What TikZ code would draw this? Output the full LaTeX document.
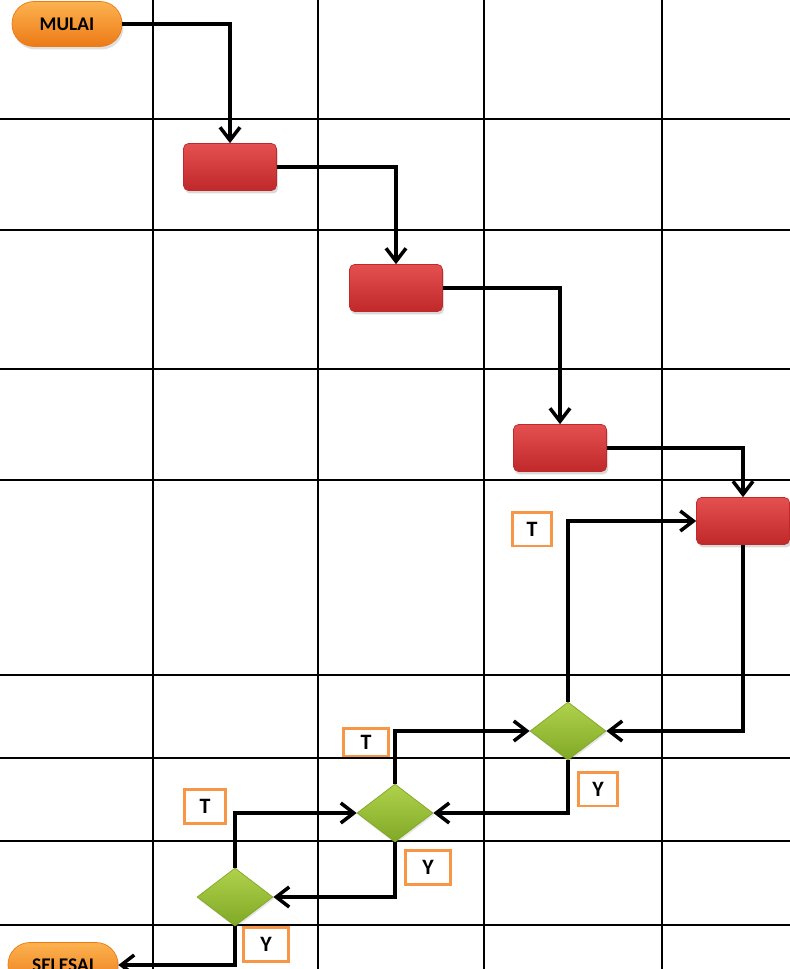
\documentclass[tikz,border=0pt]{standalone}
\usepackage{fontspec}
\setmainfont{Carlito}
\usetikzlibrary{shapes.geometric,shadows,arrows.meta}
\definecolor{oranyeatas}{RGB}{252,178,80}
\definecolor{oranyebawah}{RGB}{236,122,22}
\definecolor{merahatas}{RGB}{228,80,80}
\definecolor{merahbawah}{RGB}{192,40,42}
\definecolor{hijauatas}{RGB}{176,210,76}
\definecolor{hijaubawah}{RGB}{128,168,38}
\definecolor{bingkai}{RGB}{247,150,70}
\begin{document}
\begin{tikzpicture}[x=0.02cm, y=-0.02cm,
    terminal/.style={rectangle, rounded corners=0.44cm, minimum width=2.2cm, minimum height=0.9cm, top color=oranyeatas, bottom color=oranyebawah, draw=oranyebawah, font=\fontsize{11}{13}\selectfont\bfseries, drop shadow={opacity=0.25, shadow xshift=0.03cm, shadow yshift=-0.06cm}},
    proses/.style={rectangle, rounded corners=0.1cm, minimum width=1.86cm, minimum height=0.94cm, top color=merahatas, bottom color=merahbawah, draw=merahbawah, drop shadow={opacity=0.3, shadow xshift=0.03cm, shadow yshift=-0.06cm}},
    keputusan/.style={diamond, inner sep=0pt, minimum width=1.52cm, minimum height=1.16cm, top color=hijauatas, bottom color=hijaubawah, draw=hijaubawah, drop shadow={opacity=0.2, shadow xshift=0.02cm, shadow yshift=-0.04cm}},
    ket/.style={rectangle, draw=bingkai, line width=1.7pt, fill=white, minimum width=0.78cm, minimum height=0.68cm, inner sep=0pt, font=\fontsize{12.5}{14}\selectfont\bfseries},
    arrow/.style={-{Straight Barb[length=2.6mm, width=4mm]}, line width=2pt},
    garis/.style={line width=1.2pt}
]
\useasboundingbox (0,0) rectangle (790,969);
\clip (0,0) rectangle (790,969);

% Grid lines
\foreach \gx in {153,318,484,662}
    \draw[garis] (\gx,0) -- (\gx,969);
\foreach \gy in {119,230,369,480,675,758,841,925}
    \draw[garis] (0,\gy) -- (790,\gy);

% Start and end
\node[terminal] (mulai) at (67,24) {MULAI};
\node[terminal] (selesai) at (63,965) {SELESAI};

% Process boxes
\node[proses] (p1) at (230,167) {};
\node[proses] (p2) at (396,288) {};
\node[proses] (p3) at (560,448) {};
\node[proses] (p4) at (743,521) {};

% Decisions
\node[keputusan] (d1) at (568,731) {};
\node[keputusan] (d2) at (395,813) {};
\node[keputusan] (d3) at (235,897) {};

% T / Y labels
\node[ket] (t1) at (532,529) {T};
\node[ket, minimum width=0.9cm, minimum height=0.56cm] (t2) at (366,742) {T};
\node[ket, minimum width=0.82cm] (t3) at (205,806) {T};
\node[ket] (y1) at (598,789) {Y};
\node[ket, minimum width=0.9cm] (y2) at (428,867) {Y};
\node[ket, minimum width=0.9cm] (y3) at (266,944) {Y};

% Arrows
\draw[arrow] (mulai.east) -| (p1.north);
\draw[arrow] (p1.east) -| (p2.north);
\draw[arrow] (p2.east) -| (p3.north);
\draw[arrow] (p3.east) -| (p4.north);
\draw[arrow] (p4.south) |- (d1.east);
\draw[arrow] (d1.north) |- (p4.west);
\draw[arrow] (d1.south) |- (d2.east);
\draw[arrow] (d2.north) |- (d1.west);
\draw[arrow] (d2.south) |- (d3.east);
\draw[arrow] (d3.north) |- (d2.west);
\draw[arrow] (d3.south) |- (selesai.east);
\end{tikzpicture}
\end{document}
